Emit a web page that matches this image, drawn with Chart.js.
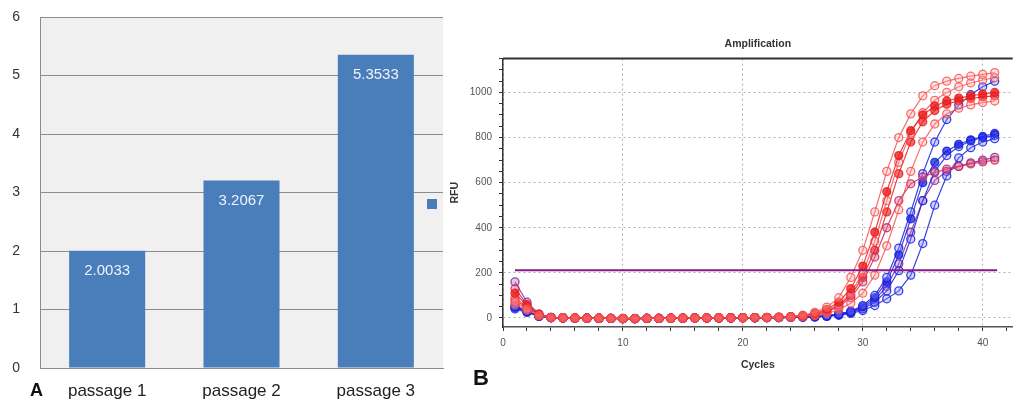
<!DOCTYPE html>
<html>
<head>
<meta charset="utf-8">
<script src="https://cdn.jsdelivr.net/npm/chart.js@4.4.1/dist/chart.umd.min.js"></script>
<style>
  body { margin:0; width:1018px; height:406px; background:#fff; position:relative; overflow:hidden; font-family:'Liberation Sans', Arial, sans-serif; }
  #wrapA { position:absolute; left:0; top:0; }
  #wrapB { position:absolute; left:445px; top:28px; }
  .panel { position:absolute; font-weight:bold; color:#111; }
</style>
</head>
<body>
<div id="wrapA"><canvas id="graficoPasajes" width="460" height="406"></canvas></div>
<div id="wrapB"><canvas id="graficoAmplificacion" width="573" height="350"></canvas></div>
<div class="panel" style="left:30px;top:380px;font-size:18px;line-height:20px;">A</div>
<div class="panel" style="left:473px;top:366px;font-size:22px;line-height:24px;">B</div>
<script>
// Panel A
const pasajes = ['passage 1', 'passage 2', 'passage 3'];
const valoresPasaje = [2.0033, 3.2067, 5.3533];
const ticksPasaje = [0, 1, 2, 3, 4, 5, 6];

// Panel B
const ciclos = [1,2,3,4,5,6,7,8,9,10,11,12,13,14,15,16,17,18,19,20,21,22,23,24,25,26,27,28,29,30,31,32,33,34,35,36,37,38,39,40,41];
const ticksCiclos = [0, 10, 20, 30, 40];
const ticksRFU = [0, 200, 400, 600, 800, 1000];
const umbralCiclos = [1, 41.2];
const umbralRFU = 212;

const rojo1 = [70,40,12,2,1,0,-1,0,-2,-3,-2,-1,-2,-1,0,-1,0,1,0,1,2,2,3,5,12,25,48,90,180,300,470,650,800,905,985,1030,1050,1062,1072,1080,1088];
const rojo2 = [110,55,15,3,2,0,-1,-1,-2,-3,-3,-2,-2,-1,-1,0,0,0,1,1,2,3,4,6,10,20,38,70,130,230,380,560,720,830,900,940,962,975,985,993,1000];
const rojo3 = [90,50,12,2,1,0,-1,0,-2,-2,-3,-2,-1,-1,0,0,0,1,1,1,2,3,4,5,9,17,32,60,110,200,340,520,690,820,910,965,1000,1025,1042,1055,1065];
const rojo4 = [60,35,10,2,0,-1,-1,-2,-2,-3,-2,-2,-1,-1,0,0,0,0,1,1,2,2,3,4,6,11,20,36,65,110,190,320,480,650,780,860,905,930,945,955,962];
const rojo5 = [130,60,15,3,1,0,-1,-1,-2,-2,-3,-2,-2,-1,-1,0,0,0,1,1,2,2,3,5,8,15,28,50,90,160,270,400,520,595,625,645,660,672,683,692,700];
const rojo6 = [80,45,12,2,1,0,-1,-1,-2,-3,-3,-2,-2,-1,0,0,0,1,1,1,2,2,3,5,8,15,28,55,100,180,300,470,640,780,870,920,948,963,973,980,985];
const azul1 = [50,30,8,2,0,-1,-1,-2,-2,-3,-3,-2,-2,-1,-1,0,0,0,0,1,1,2,2,3,4,6,10,18,30,55,100,180,310,470,640,780,880,945,990,1025,1050];
const azul2 = [45,28,8,1,0,-1,-1,-2,-2,-3,-3,-2,-2,-1,-1,0,0,0,0,1,1,2,2,3,4,6,10,17,28,50,90,160,280,440,600,690,740,770,790,805,818];
const azul3 = [55,30,9,2,0,-1,-1,-2,-2,-3,-3,-2,-2,-1,-1,0,0,0,0,1,1,2,2,3,4,5,8,14,24,40,70,120,210,350,520,650,720,760,785,800,810];
const azul4 = [40,25,7,1,0,-1,-1,-2,-2,-3,-3,-2,-2,-1,-1,0,0,0,0,1,1,1,2,3,3,5,7,12,20,33,55,85,120,190,330,500,630,710,755,780,795];
const morado1 = [160,70,18,3,1,0,-1,-1,-2,-3,-3,-2,-2,-1,-1,0,0,0,0,1,1,2,2,3,4,6,9,15,25,45,80,140,240,380,520,610,650,672,688,700,712];

const fuente = "'Liberation Sans', Arial, sans-serif";
const azulBarra = '#4a7ebb';

// fondo gris del area del grafico A
const fondoGris = {
  id: 'fondoGris',
  beforeDraw(chart) {
    const a = chart.chartArea;
    chart.ctx.save();
    chart.ctx.fillStyle = '#f0f0f0';
    chart.ctx.fillRect(a.left, a.top, a.right - a.left, a.bottom - a.top);
    chart.ctx.restore();
  }
};

// valores dentro de las barras + marcador de leyenda
const etiquetasBarras = {
  id: 'etiquetasBarras',
  afterDatasetsDraw(chart) {
    const ctx = chart.ctx;
    const meta = chart.getDatasetMeta(0);
    ctx.save();
    ctx.fillStyle = '#eef3fa';
    ctx.font = '15px ' + fuente;
    ctx.textAlign = 'center';
    ctx.textBaseline = 'middle';
    meta.data.forEach((bar, i) => {
      ctx.fillText(valoresPasaje[i].toFixed(4), bar.x, bar.y + 20);
    });
    const a = chart.chartArea;
    ctx.fillStyle = azulBarra;
    ctx.fillRect(a.right - 16, a.top + 182, 10, 10);
    ctx.restore();
  }
};

new Chart(document.getElementById('graficoPasajes').getContext('2d'), {
  type: 'bar',
  data: {
    labels: pasajes,
    datasets: [{
      data: valoresPasaje,
      backgroundColor: azulBarra,
      borderWidth: 0,
      barPercentage: 0.566,
      categoryPercentage: 1
    }]
  },
  options: {
    responsive: false,
    animation: false,
    layout: { padding: { top: 17, right: 17, left: 0, bottom: 0 } },
    plugins: { legend: { display: false }, tooltip: { enabled: false } },
    scales: {
      x: {
        grid: { display: false, drawTicks: false },
        border: { display: true, color: '#8c8c8c', width: 1 },
        ticks: { color: '#222', font: { family: fuente, size: 17 }, padding: 13 },
        afterFit(scale) { scale.height = 38; }
      },
      y: {
        min: 0,
        max: 6,
        afterBuildTicks(scale) { scale.ticks = ticksPasaje.map(v => ({ value: v })); },
        grid: { color: '#8c8c8c', lineWidth: 1, drawTicks: true, tickLength: 20, tickColor: 'transparent' },
        border: { display: true, color: '#8c8c8c', width: 1 },
        ticks: { color: '#333', font: { family: fuente, size: 14 }, padding: 0 },
        afterFit(scale) { scale.width = 40; }
      }
    }
  },
  plugins: [fondoGris, etiquetasBarras]
});

// Panel B
const marcoSuperior = {
  id: 'marcoSuperior',
  afterDraw(chart) {
    const a = chart.chartArea;
    const ctx = chart.ctx;
    ctx.save();
    ctx.strokeStyle = '#333';
    ctx.lineWidth = 2;
    ctx.beginPath();
    ctx.moveTo(a.left, a.top);
    ctx.lineTo(a.right, a.top);
    ctx.stroke();
    ctx.restore();
  }
};

const aPuntos = serie => ciclos.map((c, i) => ({ x: c, y: serie[i] }));

function curva(serie, color, relleno) {
  return {
    data: aPuntos(serie),
    borderColor: color,
    borderWidth: 1.2,
    pointRadius: 4,
    pointBorderWidth: 1.3,
    pointBorderColor: color,
    pointBackgroundColor: relleno,
    pointHoverRadius: 0,
    tension: 0
  };
}

const rojoLinea = 'rgba(235,30,30,0.85)';
const rojoClaro = 'rgba(245,75,75,0.8)';
const azulLinea = 'rgba(25,35,225,0.85)';
const moradoLinea = 'rgba(135,40,150,0.85)';

new Chart(document.getElementById('graficoAmplificacion').getContext('2d'), {
  type: 'line',
  data: {
    datasets: [
      {
        data: umbralCiclos.map(c => ({ x: c, y: umbralRFU })),
        borderColor: '#861a86',
        borderWidth: 2,
        pointRadius: 0
      },
      curva(rojo1, rojoClaro, 'rgba(255,170,170,0.35)'),
      curva(rojo2, rojoLinea, 'rgba(235,30,30,0.8)'),
      curva(rojo3, rojoClaro, 'rgba(255,170,170,0.35)'),
      curva(rojo4, rojoClaro, 'rgba(255,160,160,0.35)'),
      curva(rojo5, 'rgba(200,40,90,0.85)', 'rgba(230,90,130,0.4)'),
      curva(rojo6, rojoLinea, 'rgba(235,30,30,0.65)'),
      curva(azul1, azulLinea, 'rgba(130,130,255,0.35)'),
      curva(azul2, azulLinea, 'rgba(25,35,225,0.75)'),
      curva(azul3, azulLinea, 'rgba(130,130,255,0.35)'),
      curva(azul4, azulLinea, 'rgba(130,130,255,0.35)'),
      curva(morado1, moradoLinea, 'rgba(180,120,200,0.4)')
    ]
  },
  options: {
    responsive: false,
    animation: false,
    layout: { padding: 0 },
    plugins: {
      legend: { display: false },
      tooltip: { enabled: false },
      title: {
        display: true,
        text: 'Amplification',
        fullSize: false,
        color: '#333',
        font: { family: fuente, size: 10.5, weight: 'bold' },
        padding: { top: 10, bottom: 8 }
      }
    },
    scales: {
      x: {
        type: 'linear',
        min: 0,
        max: 42.5,
        afterBuildTicks(scale) {
          const t = [];
          for (let v = 0; v <= 42; v += 2) t.push({ value: v });
          scale.ticks = t;
        },
        grid: {
          color: c => ticksCiclos.includes(c.tick && c.tick.value) ? '#b0b0b0' : 'transparent',
          tickColor: '#333',
          tickLength: 4,
          lineWidth: 1
        },
        border: { display: true, color: '#555', width: 1.5, dash: [2, 3] },
        ticks: {
          color: '#555',
          font: { family: fuente, size: 10 },
          padding: 6,
          maxRotation: 0,
          autoSkip: false,
          callback: v => ticksCiclos.includes(v) ? v : ''
        },
        title: {
          display: true,
          text: 'Cycles',
          color: '#333',
          font: { family: fuente, size: 10.5, weight: 'bold' },
          padding: { top: 0, bottom: 7 }
        },
        afterFit(scale) { scale.height = 51; }
      },
      y: {
        min: -40,
        max: 1150,
        afterBuildTicks(scale) {
          const t = [];
          for (let v = 0; v <= 1150; v += 50) t.push({ value: v });
          scale.ticks = t;
        },
        grid: {
          color: c => ticksRFU.includes(c.tick && c.tick.value) ? '#b0b0b0' : 'transparent',
          tickColor: '#333',
          tickLength: 4,
          lineWidth: 1
        },
        border: { display: true, color: '#333', width: 1.5, dash: [2, 3] },
        ticks: {
          color: '#555',
          font: { family: fuente, size: 10 },
          padding: 7,
          autoSkip: false,
          callback: v => ticksRFU.includes(v) ? v : ''
        },
        title: {
          display: true,
          text: 'RFU',
          color: '#333',
          font: { family: fuente, size: 10.5, weight: 'bold' },
          padding: { top: 4, bottom: 0 }
        },
        afterFit(scale) { scale.width = 58; }
      }
    }
  },
  plugins: [marcoSuperior]
});
</script>
</body>
</html>
